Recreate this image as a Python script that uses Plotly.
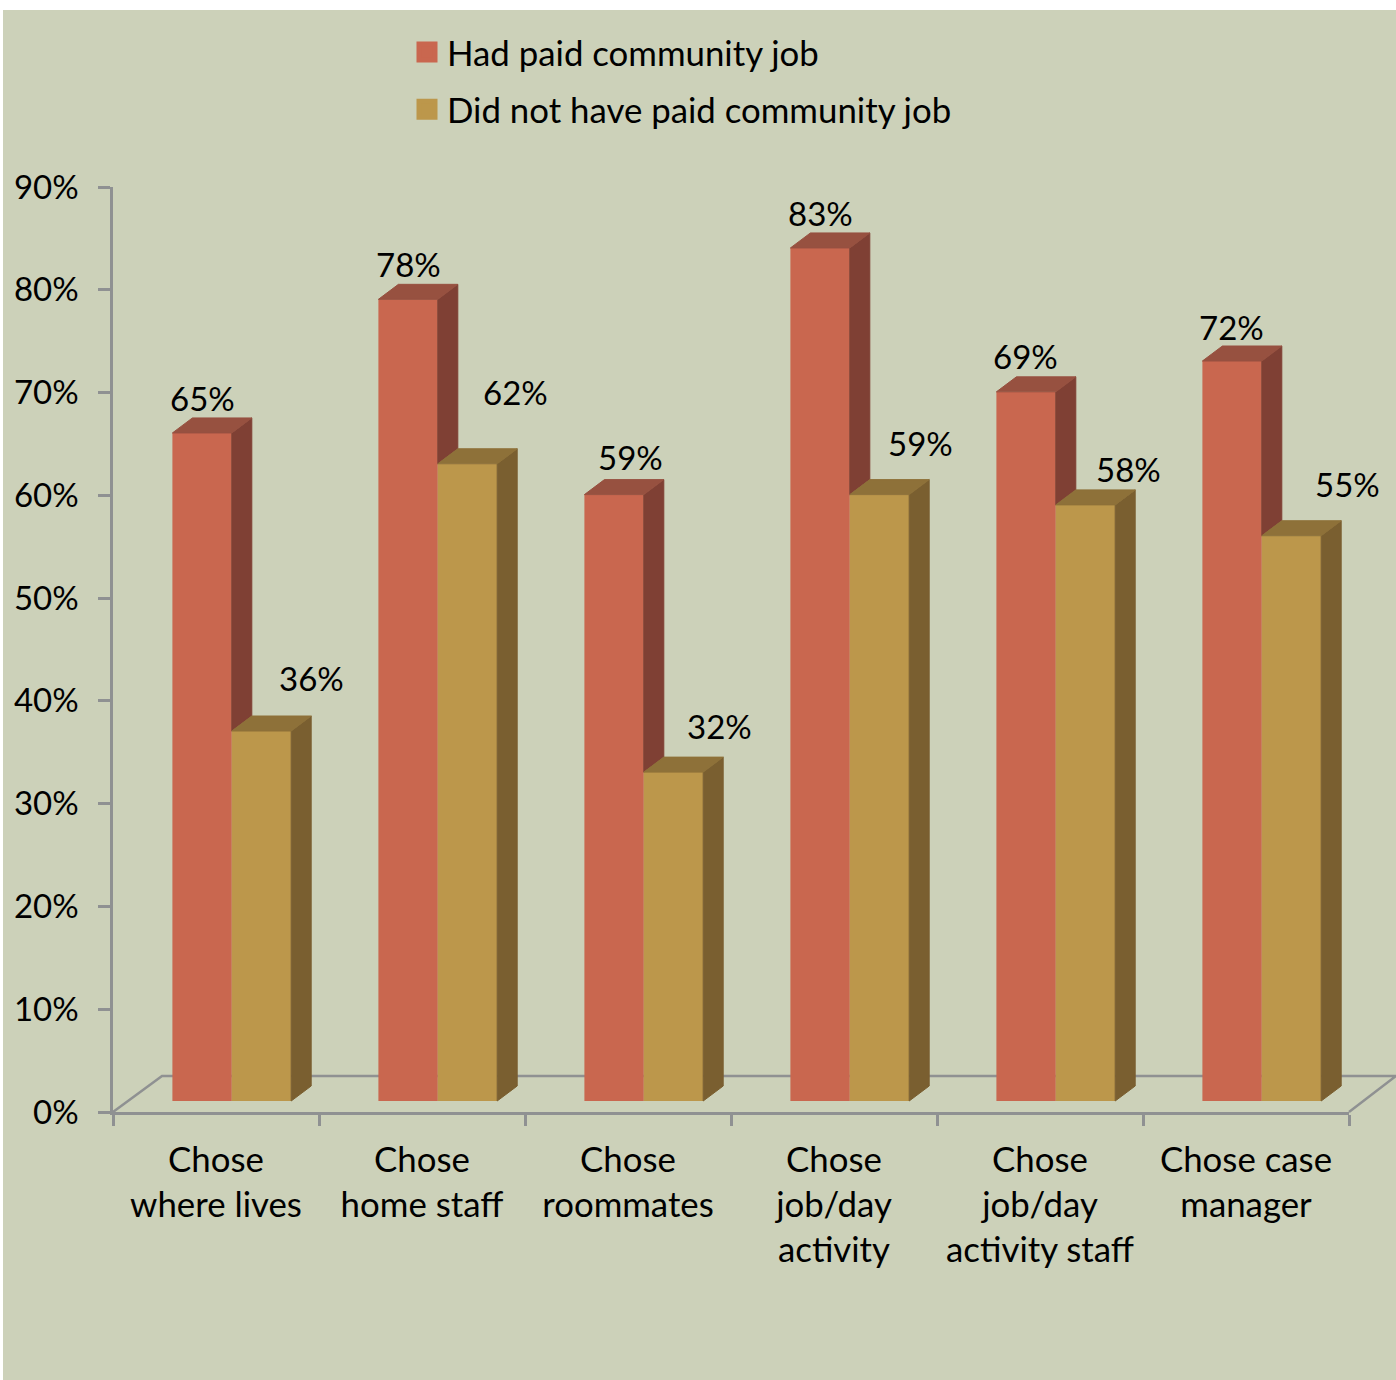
import plotly.graph_objects as go

# Survey outcomes by employment status (percent of respondents)
categories = [
    "Chose<br>where lives",
    "Chose<br>home staff",
    "Chose<br>roommates",
    "Chose<br>job/day<br>activity",
    "Chose<br>job/day<br>activity staff",
    "Chose case<br>manager",
]
series_names = ["Had paid community job", "Did not have paid community job"]
had_job = [65, 78, 59, 83, 69, 72]
no_job = [36, 62, 32, 59, 58, 55]
y_ticks = [0, 10, 20, 30, 40, 50, 60, 70, 80, 90]

# Manual label nudges in pixels, measured from the top-centre of each front face
had_dx = [0, 0, 16.5, 0, -0.5, -0.5]
had_dy = [34.5, 35, 37.5, 34.5, 35.5, 34.5]
no_dx = [50, 47.5, 46, 41, 42.5, 55.5]
no_dy = [53, 71.5, 46.5, 52, 35.5, 51.5]

WIDTH, HEIGHT = 1396, 1380
M_L, M_R, M_T, M_B = 113, 47, 187, 268
PX_X = (WIDTH - M_L - M_R) / 6          # pixels per category
PX_Y = (HEIGHT - M_T - M_B) / 90        # pixels per percentage point

BG = "#CCD1B9"
AXIS = "#8F9192"
RED, RED_SIDE, RED_TOP = "#C9674F", "#7F4034", "#975140"
GOLD, GOLD_SIDE, GOLD_TOP = "#BC974B", "#7A5F30", "#8E7139"
FONT = "Lato"
FS = 34.8
FS_NUM = 33

# Oblique projection used for the bar depth and the floor
BAR_DX, BAR_DY = 20 / PX_X, 15 / PX_Y
BASE = 11 / PX_Y
FLOOR_DX, FLOOR_DY = 49 / PX_X, 36 / PX_Y
BAR_W = 59.4 / PX_X
RED_OFF = -43.6 / PX_X
GOLD_OFF = RED_OFF + BAR_W

centers = [i + 0.5 for i in range(len(categories))]


def add_polys(fig, polys, color):
    """Draw a group of closed polygons as a single filled trace."""
    xs, ys = [], []
    for poly in polys:
        xs += [p[0] for p in poly] + [poly[0][0], None]
        ys += [p[1] for p in poly] + [poly[0][1], None]
    fig.add_trace(go.Scatter(
        x=xs, y=ys, mode="lines", fill="toself", fillcolor=color,
        line=dict(color=color, width=1), hoverinfo="skip",
        showlegend=False, cliponaxis=False,
    ))


fig = go.Figure()

# Front faces
for vals, off, color, name in [
    (had_job, RED_OFF, RED, series_names[0]),
    (no_job, GOLD_OFF, GOLD, series_names[1]),
]:
    fig.add_trace(go.Bar(
        x=centers, y=vals, base=BASE, width=BAR_W, offset=off,
        marker=dict(color=color, line=dict(width=0)),
        name=name, showlegend=False,
    ))

# Side and top faces derived from the values
red_sides, red_tops, gold_sides, gold_tops = [], [], [], []
for c, r, g in zip(centers, had_job, no_job):
    rx0, rx1 = c + RED_OFF, c + RED_OFF + BAR_W
    gx0, gx1 = c + GOLD_OFF, c + GOLD_OFF + BAR_W
    rt, gt = BASE + r, BASE + g
    red_tops.append([(rx0, rt), (rx0 + BAR_DX, rt + BAR_DY),
                     (rx1 + BAR_DX, rt + BAR_DY), (rx1, rt)])
    red_sides.append([(rx1, rt), (rx1 + BAR_DX, rt + BAR_DY),
                      (rx1 + BAR_DX, gt + BAR_DY), (rx1, gt)])
    gold_tops.append([(gx0, gt), (gx0 + BAR_DX, gt + BAR_DY),
                      (gx1 + BAR_DX, gt + BAR_DY), (gx1, gt)])
    gold_sides.append([(gx1, gt), (gx1 + BAR_DX, gt + BAR_DY),
                       (gx1 + BAR_DX, BASE + BAR_DY), (gx1, BASE)])
add_polys(fig, red_sides, RED_SIDE)
add_polys(fig, red_tops, RED_TOP)
add_polys(fig, gold_sides, GOLD_SIDE)
add_polys(fig, gold_tops, GOLD_TOP)

# Legend entries
for name, color in zip(series_names, [RED, GOLD]):
    fig.add_trace(go.Scatter(
        x=[None], y=[None], mode="markers", name=name, legendgroup=name,
        marker=dict(symbol="square", size=16, color=color,
                    line=dict(color=color, width=5)),
    ))

# Value labels
annotations = []
for vals, off, dxs, dys in [
    (had_job, RED_OFF, had_dx, had_dy),
    (no_job, GOLD_OFF, no_dx, no_dy),
]:
    for c, v, dx, dy in zip(centers, vals, dxs, dys):
        annotations.append(dict(
            x=c + off + BAR_W / 2, y=BASE + v, text=f"{v}%", showarrow=False,
            xanchor="center", yanchor="middle", xshift=dx, yshift=dy,
            font=dict(family=FONT, size=FS_NUM, color="#000000"),
        ))

# Page panel and floor outline, in plot-area fractions so they may leave the axes
to_px = lambda v: v / 6
to_py = lambda v: v / 90
shapes = [
    dict(type="rect", xref="paper", yref="paper", layer="below",
         x0=(3 - M_L) / (PX_X * 6), x1=(WIDTH - M_L) / (PX_X * 6),
         y0=-M_B / (PX_Y * 90), y1=1 + (M_T - 10) / (PX_Y * 90),
         fillcolor=BG, line=dict(width=0)),
    dict(type="path", xref="paper", yref="paper", layer="below",
         path=(f"M 0 0 L {to_px(FLOOR_DX)} {to_py(FLOOR_DY)} "
               f"L {to_px(6 + 47 / PX_X)} {to_py(FLOOR_DY)} "
               f"M {to_px(6)} 0 L {to_px(6 + 47 / PX_X)} {to_py(FLOOR_DY)}"),
         line=dict(color=AXIS, width=2.5)),
]

fig.update_layout(
    width=WIDTH, height=HEIGHT, autosize=False,
    margin=dict(l=M_L, r=M_R, t=M_T, b=M_B, pad=0, autoexpand=False),
    paper_bgcolor="#FFFFFF", plot_bgcolor="rgba(0,0,0,0)",
    barmode="overlay", shapes=shapes, annotations=annotations,
    font=dict(family=FONT, size=FS, color="#000000"),
    showlegend=True,
    legend=dict(
        x=(407 - M_L) / (PX_X * 6), xanchor="left",
        y=1 + (M_T - 23) / (PX_Y * 90), yanchor="top",
        bgcolor="rgba(0,0,0,0)", borderwidth=0, tracegroupgap=9,
        font=dict(family=FONT, size=FS, color="#000000"),
    ),
    xaxis=dict(
        range=[0, 6], tickmode="array", tickvals=centers, ticktext=categories,
        ticks="", showgrid=False, zeroline=False, showline=True,
        linecolor=AXIS, linewidth=2.5, ticklabelstandoff=15, fixedrange=True,
        tickfont=dict(family=FONT, size=FS, color="#000000"),
        minor=dict(tickmode="linear", tick0=0, dtick=1, ticks="outside",
                   ticklen=11, tickwidth=2.5, tickcolor=AXIS, showgrid=False),
    ),
    yaxis=dict(
        range=[0, 90], tickmode="array", tickvals=y_ticks,
        ticktext=[f"{t}%" for t in y_ticks],
        ticks="outside", ticklen=12, tickwidth=2.5, tickcolor=AXIS,
        showgrid=False, zeroline=False, showline=True, linecolor=AXIS,
        linewidth=2.5, ticklabelstandoff=13, fixedrange=True,
        tickfont=dict(family=FONT, size=FS_NUM, color="#000000"),
    ),
)

fig.write_html("out.html")
